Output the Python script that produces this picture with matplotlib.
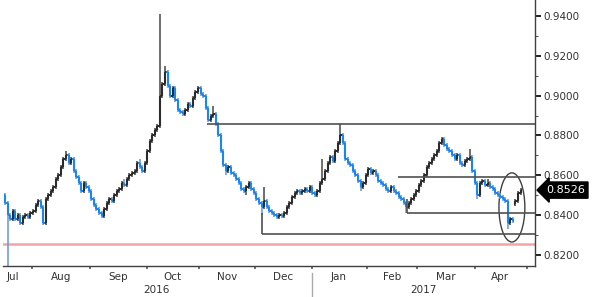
import numpy as np
import matplotlib
matplotlib.use("Agg")
import matplotlib.pyplot as plt
from matplotlib.patches import Ellipse
from matplotlib.transforms import blended_transform_factory

# daily closes, one per trading day (Jul 2016 - Apr 2017)
closes = [
    0.8460, 0.8400, 0.8380, 0.8420, 0.8380, 0.8400, 0.8360, 0.8390, 0.8400, 0.8390,
    0.8410, 0.8420, 0.8450, 0.8470, 0.8440, 0.8360, 0.8480, 0.8500, 0.8520, 0.8540,
    0.8580, 0.8600, 0.8640, 0.8680, 0.8700, 0.8660, 0.8680, 0.8620, 0.8590, 0.8560,
    0.8520, 0.8560, 0.8540, 0.8520, 0.8480, 0.8450, 0.8430, 0.8410, 0.8395, 0.8430,
    0.8460, 0.8480, 0.8470, 0.8500, 0.8520, 0.8530, 0.8560, 0.8550, 0.8580, 0.8600,
    0.8610, 0.8620, 0.8660, 0.8640, 0.8620, 0.8660, 0.8720, 0.8770, 0.8800, 0.8830,
    0.8850, 0.9000, 0.9060, 0.9120, 0.9050, 0.9000, 0.9040, 0.8980, 0.8930, 0.8920,
    0.8910, 0.8930, 0.8960, 0.8950, 0.8990, 0.9020, 0.9040, 0.9010, 0.9000, 0.8940,
    0.8880, 0.8900, 0.8910, 0.8860, 0.8800, 0.8720, 0.8650, 0.8620, 0.8640, 0.8610,
    0.8600, 0.8580, 0.8560, 0.8530, 0.8520, 0.8540, 0.8560, 0.8530, 0.8510, 0.8480,
    0.8460, 0.8440, 0.8470, 0.8440, 0.8420, 0.8410, 0.8400, 0.8390, 0.8400, 0.8395,
    0.8410, 0.8440, 0.8460, 0.8490, 0.8510, 0.8520, 0.8510, 0.8520, 0.8530, 0.8520,
    0.8540, 0.8510, 0.8500, 0.8520, 0.8560, 0.8580, 0.8620, 0.8660, 0.8690, 0.8670,
    0.8720, 0.8760, 0.8800, 0.8760, 0.8680, 0.8660, 0.8650, 0.8620, 0.8600, 0.8570,
    0.8540, 0.8560, 0.8600, 0.8630, 0.8610, 0.8620, 0.8600, 0.8570, 0.8560, 0.8550,
    0.8530, 0.8520, 0.8540, 0.8520, 0.8510, 0.8490, 0.8480, 0.8460, 0.8440, 0.8460,
    0.8480, 0.8500, 0.8520, 0.8550, 0.8570, 0.8600, 0.8640, 0.8660, 0.8680, 0.8700,
    0.8720, 0.8760, 0.8780, 0.8750, 0.8730, 0.8720, 0.8700, 0.8680, 0.8700, 0.8660,
    0.8650, 0.8670, 0.8680, 0.8690, 0.8620, 0.8560, 0.8500, 0.8560, 0.8570, 0.8550,
    0.8560, 0.8540, 0.8530, 0.8510, 0.8500, 0.8490, 0.8480, 0.8470, 0.8360, 0.8380,
    0.8370, 0.8470, 0.8510, 0.8526,
]

# intraday extremes that stick out of the bars
spike_highs = {0: 0.8500, 24: 0.8720, 61: 0.9410, 63: 0.9150, 82: 0.8950,
               102: 0.8540, 125: 0.8680, 132: 0.8860, 172: 0.8790, 183: 0.8730,
               53: 0.8680, 47: 0.8580, 129: 0.8700, 146: 0.8630, 190: 0.8580}
spike_lows = {1: 0.8145, 15: 0.8350, 38: 0.8385, 101: 0.8400, 158: 0.8410,
              186: 0.8480, 198: 0.8330, 87: 0.8600, 95: 0.8500, 140: 0.8520}
gap_opens = {201: 0.8455}

month_labels = ["Jul", "Aug", "Sep", "Oct", "Nov", "Dec", "Jan", "Feb", "Mar", "Apr"]
month_label_pos = [3, 22, 44.5, 66, 87.5, 109.5, 131.5, 152.5, 173.5, 195]
month_edges = [10.6, 33.5, 55.9, 76.4, 98.4, 120.9, 142.5, 162.2, 185, 205.5]
years = ["2016", "2017"]
year_pos = [59.8, 164.6]

resistance = 0.8858
upper_feb = 0.8592
lower_feb = 0.8411
dec_low = 0.8305
pink_level = 0.8256
last_price = 0.8526


def main():
    closes_a = np.array(closes)
    n = len(closes_a)
    x = np.arange(n)
    opens = np.concatenate(([closes_a[0] + 0.004], closes_a[:-1]))
    for k, v in gap_opens.items():
        opens[k] = v
    pad = 0.001
    highs = np.maximum(opens, closes_a) + pad
    lows = np.minimum(opens, closes_a) - pad
    for k, v in spike_highs.items():
        highs[k] = max(highs[k], v)
    for k, v in spike_lows.items():
        lows[k] = min(lows[k], v)

    up = closes_a >= opens
    cols = np.where(up, "#2b2b2b", "#1a87f0")
    wick_cols = np.where(up, "#555555", "#6f9fd0")

    fig = plt.figure(figsize=(6, 2.97), dpi=100)
    ax = fig.add_axes([3 / 600, 1 - 266 / 297, 532 / 600, 266 / 297])

    ax.vlines(x, lows, highs, colors=wick_cols, lw=1.2)
    ax.vlines(x, np.minimum(opens, closes_a), np.maximum(opens, closes_a),
              colors=cols, lw=1.5)
    ax.hlines(opens, x - 0.55, x, colors=cols, lw=1.4)
    ax.hlines(closes_a, x, x + 0.55, colors=cols, lw=1.4)

    line_c = "#505050"
    xmax = 208.7
    ax.axhline(pink_level, color="#f5a3a3", lw=1.8, zorder=1)
    ax.hlines(resistance, 79.5, xmax, colors=line_c, lw=1.2)
    ax.hlines(upper_feb, 154.7, xmax, colors=line_c, lw=1.2)
    ax.hlines(lower_feb, 158.3, xmax, colors=line_c, lw=1.2)
    ax.vlines(158.3, lower_feb, 0.8480, colors=line_c, lw=1.2)
    ax.hlines(dec_low, 101.2, xmax, colors=line_c, lw=1.2)
    ax.vlines(101.2, dec_low, 0.8410, colors=line_c, lw=1.2)

    ax.add_patch(Ellipse((199.6, 0.8439), 10.2, 0.0347, fill=False,
                         edgecolor="#404040", lw=1.0))

    ax.set_xlim(-0.8, xmax)
    ax.set_ylim(0.8145, 0.9480)

    for s in ["left", "top"]:
        ax.spines[s].set_visible(False)
    for s in ["right", "bottom"]:
        ax.spines[s].set_color("#404040")
        ax.spines[s].set_linewidth(1.0)

    ax.yaxis.tick_right()
    yt = np.arange(0.82, 0.9401, 0.02)
    ax.set_yticks(yt)
    ax.set_yticklabels([f"{v:.4f}" for v in yt])
    ax.set_yticks(np.arange(0.83, 0.95, 0.02), minor=True)
    ax.tick_params(axis="y", which="major", length=4, width=1.4, color="#222222",
                   labelsize=7.5, labelcolor="#333333", pad=2)
    ax.tick_params(axis="y", which="minor", length=2, width=0.8, color="#555555")

    ax.set_xticks(month_edges)
    ax.set_xticklabels([])
    ax.tick_params(axis="x", length=2.5, width=1.2, color="#555555")

    tr = blended_transform_factory(ax.transData, fig.transFigure)
    for lab, p in zip(month_labels, month_label_pos):
        ax.text(p, 1 - 277 / 297, lab, transform=tr, ha="center", va="center",
                fontsize=7.5, color="#333333", clip_on=False)
    for lab, p in zip(years, year_pos):
        ax.text(p, 1 - 290 / 297, lab, transform=tr, ha="center", va="center",
                fontsize=7.5, color="#333333", clip_on=False)
    ax.plot([120.9, 120.9], [0.0, 1 - 273 / 297], transform=tr, color="#aaaaaa",
            lw=1.0, clip_on=False)

    # last price tag
    ax.text(1.0 + 11 / 532, last_price, f"{last_price:.4f}",
            transform=blended_transform_factory(ax.transAxes, ax.transData),
            ha="left", va="center", fontsize=8, color="white",
            bbox=dict(boxstyle="larrow,pad=0.28", fc="black", ec="black"),
            clip_on=False)

    fig.savefig("out.png", dpi=100)


if __name__ == "__main__":
    main()
